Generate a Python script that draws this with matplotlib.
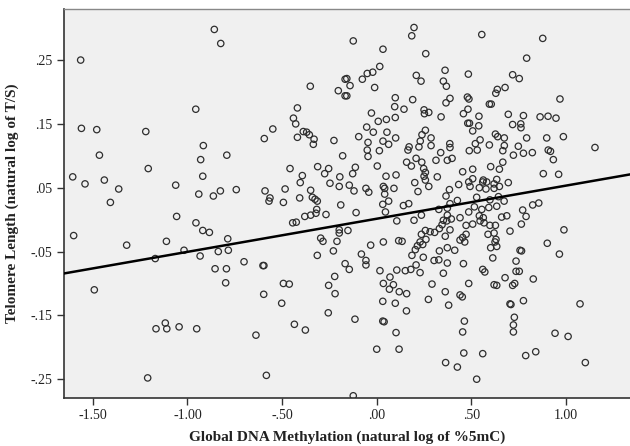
import matplotlib
matplotlib.use("Agg")
import matplotlib.pyplot as plt
from matplotlib.ticker import FuncFormatter

# ---- data: (global DNA methylation, telomere length), natural logs ----
meth = [
    -1.564, -0.956, -1.560, -1.479, -1.220, -0.916,
    -0.858, -0.824, -0.351, -0.203, -0.167, -0.167, -0.419, -0.440, -0.428, -0.549, -0.594, -0.419, -0.388, -0.370, -0.356, -0.331, -0.335, -0.226,
    -0.124, 0.033, 0.197, 0.185, 0.259, 0.555,
    -0.158, -0.141, -0.158, -0.076, -0.050, -0.021, 0.016, -0.011, 0.209, 0.234, 0.361, 0.352, 0.368, 0.484,
    0.098, 0.095, 0.144, 0.190, 0.387, 0.366, 0.479, 0.487,
    -0.028, 0.250, 0.275, 0.252, 0.340, 0.482, 0.458, 0.540, 0.481, 0.490, 0.539, 0.507,
    0.008, 0.051, 0.098, -0.053, -0.018, 0.054, -0.095, -0.046, 0.033, 0.063, 0.100,
    0.257, 0.239, 0.230, 0.223, 0.287, 0.287, 0.171, 0.386, 0.521, 0.546,
    0.877, 0.792, 0.718, 0.753, 0.678, 0.637, 0.629, 0.595, 0.605, 0.968, 0.695, 0.775, 0.863, 0.905, 0.947,
    0.718, 0.761, 0.762, 0.627, 0.639, 0.674, 0.792, 0.898, 0.986, 0.595, 0.674, 0.748, 1.153, 0.906,
    -1.465, -1.207, -1.606, -1.541, -1.439, -1.363, -1.407, -1.062, -0.940, -0.930, -0.919, -1.057, -0.955, -0.919, -1.601, -1.321, -1.111, -1.018, -1.170, -0.933, -1.492,
    -0.792, -0.458, -0.393, -0.404, -0.312, -0.254, -0.275, -0.195, -0.247, -0.198, -0.180,
    -0.863, -0.826, -0.742, -0.590, -0.564, -0.569, -0.493, -0.484, -0.407, -0.349, -0.340, -0.326, -0.314, -0.190, -0.317, -0.321, -0.349, -0.380, -0.268, -0.444, -0.425,
    -0.884, -0.787, -0.837, -0.784, -0.701, -0.601, -0.596, -0.854, -0.794, -0.798, -0.493, -0.462, -0.314, -0.229, -0.210, -0.296, -0.284, -0.198, -0.198, -0.167, -0.222, -0.254,
    -0.050, -0.046, 0.014, 0.165, 0.338, 0.387, 0.489, 0.531,
    -0.113, -0.127, 0.003, 0.049, 0.102, 0.158, 0.183, 0.208, 0.238, 0.248, 0.257, 0.250, 0.257, 0.313, 0.373, 0.398, 0.320, 0.454, 0.507,
    0.201, 0.275, 0.218, -0.145, -0.120, -0.057, -0.042, 0.035, 0.042, 0.091, 0.042, 0.063, 0.032, 0.046, -0.109, 0.141, 0.169, 0.236, 0.197, 0.106,
    0.384, 0.366, 0.433, 0.486, 0.493, 0.507, 0.542, 0.560, 0.528, 0.426, 0.387, 0.373, 0.328, 0.373, 0.440, 0.486, 0.516, 0.542, 0.563,
    -0.152, 0.282, 0.257, 0.306, 0.331, 0.352, 0.370, 0.394, 0.345, 0.236, 0.229, 0.260, 0.243, 0.215, 0.204, 0.186, 0.246,
    0.116, 0.134, 0.035, -0.032, -0.081, -0.057, -0.057, -0.145, 0.017, 0.070, 0.035, 0.088, 0.106, 0.151, 0.180, 0.208, 0.229, 0.292,
    0.303, 0.328, 0.331, 0.373, 0.412, 0.373, 0.352, 0.458, 0.486, 0.560, 0.362, 0.387, 0.440, 0.454, 0.472, 0.465, 0.472, 0.507, 0.546,
    0.666, 0.722, 0.775, 0.822, 0.918, 0.933, 0.602, 0.648, 0.666, 0.880, 0.961, 0.563, 0.581, 0.634, 0.620, 0.648, 0.695, 0.577, 0.620,
    0.643, 0.598, 0.673, 0.634, 0.592, 0.555, 0.824, 0.856, 0.771, 0.789, 0.660, 0.687, 0.567, 0.598, 0.627, 0.764, 0.620, 0.588, 0.704, 0.989,
    0.630, 0.625, 0.634, 0.602, 0.901, 0.757, 0.765, 0.965, 0.613, 0.736, 0.571, 0.736, 0.753, 0.678, 0.827, 0.620, 0.634, 0.718, 0.729,
    -1.166, -1.117, -1.109, -1.044, -0.951, -1.210,
    -0.597, -0.502, -0.220, -0.256, -0.435, -0.377, -0.638, -0.583,
    0.067, 0.119, 0.158, 0.032, 0.098, 0.157, 0.273, 0.362, 0.380, 0.440, 0.452, -0.115, 0.032, 0.039, 0.102, 0.000, 0.118, 0.463, 0.454, 0.460, 0.560, 0.364, 0.426, 0.528, -0.124,
    0.704, 0.709, 0.775, 1.074, 0.727, 0.722, 0.722, 0.942, 1.011, 0.787, 0.840, 1.102,
]
telo = [
    0.250, 0.173, 0.143, 0.141, 0.138, 0.116,
    0.298, 0.276, 0.209, 0.202, 0.220, 0.194, 0.175, 0.159, 0.150, 0.142, 0.127, 0.129, 0.138, 0.137, 0.133, 0.126, 0.118, 0.124,
    0.280, 0.267, 0.301, 0.288, 0.260, 0.290,
    0.221, 0.210, 0.194, 0.220, 0.229, 0.231, 0.240, 0.207, 0.226, 0.217, 0.234, 0.217, 0.209, 0.228,
    0.191, 0.177, 0.173, 0.188, 0.190, 0.183, 0.192, 0.189,
    0.167, 0.172, 0.168, 0.166, 0.161, 0.173, 0.166, 0.162, 0.151, 0.151, 0.147, 0.139,
    0.154, 0.157, 0.160, 0.145, 0.137, 0.137, 0.130, 0.121, 0.123, 0.118, 0.128,
    0.140, 0.133, 0.123, 0.114, 0.128, 0.116, 0.114, 0.119, 0.119, 0.125,
    0.284, 0.253, 0.227, 0.221, 0.207, 0.204, 0.198, 0.181, 0.181, 0.189, 0.165, 0.163, 0.161, 0.162, 0.159,
    0.149, 0.150, 0.144, 0.134, 0.130, 0.128, 0.128, 0.128, 0.130, 0.117, 0.116, 0.115, 0.113, 0.109,
    0.101, 0.080, 0.067, 0.056, 0.062, 0.048, 0.027, 0.054, 0.040, 0.094, 0.068, 0.005, -0.005, -0.017, -0.025, -0.040, -0.034, -0.048, -0.061, -0.057, -0.110,
    0.101, 0.080, 0.069, 0.058, 0.083, 0.080, 0.072, 0.067, 0.057, 0.052, 0.100,
    0.037, 0.045, 0.047, 0.045, 0.034, 0.029, 0.027, 0.048, 0.034, 0.046, 0.035, 0.032, 0.029, 0.023, 0.016, 0.010, 0.007, 0.005, 0.008, -0.005, -0.004,
    -0.020, -0.030, -0.050, -0.048, -0.066, -0.072, -0.072, -0.077, -0.077, -0.099, -0.100, -0.101, -0.056, -0.049, -0.034, -0.029, -0.034, -0.016, -0.021, -0.069, -0.089, -0.103,
    0.109, 0.099, 0.108, 0.109, 0.105, 0.113, 0.108, 0.109,
    0.082, 0.072, 0.084, 0.068, 0.070, 0.090, 0.084, 0.096, 0.090, 0.080, 0.074, 0.068, 0.062, 0.093, 0.093, 0.096, 0.067, 0.075, 0.079,
    0.058, 0.052, 0.044, 0.054, 0.045, 0.049, 0.043, 0.052, 0.049, 0.049, 0.040, 0.029, 0.024, 0.012, 0.011, 0.022, 0.025, 0.007, -0.001, -0.002,
    0.047, 0.037, 0.055, 0.059, 0.052, 0.064, 0.050, 0.059, 0.035, 0.030, 0.025, 0.018, 0.016, 0.007, 0.003, 0.012, 0.020, 0.006, 0.003,
    -0.017, -0.019, -0.017, -0.020, -0.014, -0.001, -0.002, 0.001, -0.008, -0.023, -0.035, -0.031, -0.039, -0.041, -0.047, -0.056, -0.059,
    -0.033, -0.034, -0.035, -0.040, -0.054, -0.064, -0.071, -0.078, -0.080, -0.090, -0.100, -0.102, -0.079, -0.080, -0.078, -0.071, -0.083, -0.101,
    -0.064, -0.063, -0.049, -0.044, -0.048, -0.068, -0.084, -0.069, -0.100, -0.078, -0.026, -0.016, -0.032, -0.028, -0.023, -0.035, -0.009, -0.007, -0.002,
    0.108, 0.101, 0.104, 0.105, 0.107, 0.094, 0.083, 0.079, 0.090, 0.072, 0.071, 0.062, 0.059, 0.063, 0.056, 0.052, 0.058, 0.048, 0.049,
    0.036, 0.031, 0.029, 0.021, 0.019, 0.016, 0.023, 0.026, 0.015, 0.005, 0.004, 0.006, -0.005, -0.009, -0.009, -0.007, -0.021, -0.023, -0.018, -0.016,
    -0.031, -0.035, -0.042, -0.044, -0.037, -0.048, -0.049, -0.054, -0.060, -0.065, -0.082, -0.081, -0.081, -0.091, -0.093, -0.102, -0.103, -0.103, -0.100,
    -0.171, -0.162, -0.171, -0.168, -0.171, -0.248,
    -0.117, -0.131, -0.116, -0.146, -0.164, -0.173, -0.181, -0.244,
    -0.109, -0.113, -0.116, -0.128, -0.131, -0.143, -0.125, -0.113, -0.134, -0.118, -0.121, -0.156, -0.159, -0.160, -0.177, -0.203, -0.203, -0.159, -0.176, -0.209, -0.210, -0.224, -0.231, -0.250, -0.276,
    -0.132, -0.133, -0.127, -0.132, -0.153, -0.165, -0.176, -0.178, -0.183, -0.213, -0.207, -0.224,
]

# fitted regression line (intercept, slope)
fit_intercept = 0.0014
fit_slope = 0.0519

x_ticks = [-1.5, -1.0, -0.5, 0.0, 0.5, 1.0]
y_ticks = [-0.25, -0.15, -0.05, 0.05, 0.15, 0.25]
x_label = "Global DNA Methylation (natural log of %5mC)"
y_label = "Telomere Length (natural log of T/S)"

n = min(len(meth), len(telo))
meth = meth[:n]
telo = telo[:n]

plt.rcParams["font.family"] = ["Liberation Serif", "DejaVu Serif"]

fig = plt.figure(figsize=(6.30, 4.46), dpi=100)
ax = fig.add_axes([0.1016, 0.1083, 0.8984, 0.8715])
ax.set_facecolor("#f0f0f0")

ax.scatter(meth, telo, s=21, facecolors="none", edgecolors="#2e2e2e", linewidths=0.9, zorder=3)

xmin, xmax = -1.652, 1.338
ax.plot([xmin, xmax], [fit_intercept + fit_slope * xmin, fit_intercept + fit_slope * xmax],
        color="black", linewidth=1.8, zorder=4)

ax.set_xlim(xmin, xmax)
ax.set_ylim(-0.279, 0.330)

def fmt(v, pos):
    s = f"{v:.2f}"
    if abs(v) < 1:
        s = s.replace("0.", ".", 1)
    return s

ax.set_xticks(x_ticks)
ax.set_yticks(y_ticks)
ax.xaxis.set_major_formatter(FuncFormatter(fmt))
ax.yaxis.set_major_formatter(FuncFormatter(fmt))
ax.tick_params(axis="both", direction="out", length=5, width=1, color="#333333",
               labelsize=10, labelcolor="#222222")
ax.tick_params(axis="x", pad=3)

for side in ["left", "bottom"]:
    ax.spines[side].set_color("#333333")
    ax.spines[side].set_linewidth(1.2)
ax.spines["top"].set_color("#888888")
ax.spines["top"].set_linewidth(1.0)
ax.spines["right"].set_visible(False)

ax.set_xlabel(x_label, fontsize=11, fontweight="bold", color="#222222", labelpad=6)
ax.set_ylabel(y_label, fontsize=11, fontweight="bold", color="#222222", labelpad=8)

fig.savefig("out.png", dpi=100, facecolor="white")
